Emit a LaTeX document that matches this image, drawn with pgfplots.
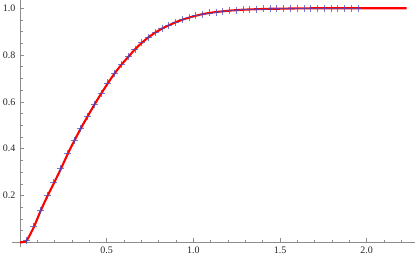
\documentclass[border=0pt]{standalone}
\usepackage{fontspec}
\setmainfont{Liberation Serif}
\usepackage{pgfplots}
\pgfplotsset{compat=1.18}
\definecolor{axgray}{gray}{0.55}
\definecolor{mblue}{rgb}{0.30,0.30,0.75}
\begin{document}
\fontsize{10}{12}\selectfont
\begin{tikzpicture}[x=1pt,y=1pt]
\begin{axis}[
  at={(0,0)}, anchor=south west,
  scale only axis, width=403pt, height=246.9pt,
  xmin=-0.045, xmax=2.28, ymin=-0.02, ymax=1.035,
  axis x line=middle, axis y line=middle,
  axis line style={axgray, line width=0.8pt, -},
  xtick={0.5,1,1.5,2}, ytick={0.2,0.4,0.6,0.8,1.0},
  minor xtick={0.1,0.2,0.3,0.4,0.6,0.7,0.8,0.9,1.1,1.2,1.3,1.4,1.6,1.7,1.8,1.9,2.1,2.2},
  minor ytick={0.05,0.1,0.15,0.25,0.3,0.35,0.45,0.5,0.55,0.65,0.7,0.75,0.85,0.9,0.95},
  tick align=inside,
  major tick length=4pt, minor tick length=2.5pt,
  tick style={axgray, line width=0.6pt},
  every tick label/.append style={font=\fontsize{10}{12}\selectfont, text=black!85},
  xticklabel style={yshift=-1pt},
  yticklabel style={xshift=-1pt},
  /pgf/number format/.cd, fixed, fixed zerofill, precision=1, assume math mode=true,
]
\addplot[red, line width=2.1pt, smooth, tension=0.4] coordinates {
(0,0) (0.02,0.001) (0.039,0.008) (0.078,0.062) (0.117,0.131) (0.156,0.194)
(0.195,0.252) (0.234,0.311) (0.273,0.374) (0.312,0.432) (0.351,0.487)
(0.390,0.538) (0.429,0.588) (0.468,0.635) (0.507,0.680) (0.546,0.722)
(0.585,0.759) (0.624,0.792) (0.663,0.824) (0.702,0.852) (0.741,0.876)
(0.780,0.896) (0.819,0.913) (0.858,0.927) (0.897,0.940) (0.936,0.951)
(0.975,0.960) (1.014,0.968) (1.053,0.975) (1.092,0.980) (1.131,0.984)
(1.170,0.987) (1.209,0.990) (1.248,0.992) (1.287,0.994) (1.326,0.995)
(1.365,0.996) (1.404,0.997) (1.443,0.998) (1.482,0.998) (1.560,0.999)
(1.70,1.0) (2.23,1.0)
};
\addplot[only marks, mark=+, mark size=3.5pt, mblue, opacity=0.75, mark options={line width=0.8pt}] coordinates {
(0.039,0.008) (0.078,0.066) (0.117,0.138) (0.156,0.200) (0.195,0.256)
(0.234,0.314) (0.273,0.378) (0.312,0.434) (0.351,0.488) (0.390,0.537)
(0.429,0.589) (0.468,0.635) (0.507,0.681) (0.546,0.723) (0.585,0.760)
(0.624,0.793) (0.663,0.825) (0.702,0.853) (0.741,0.877) (0.780,0.896)
(0.819,0.913) (0.858,0.928) (0.897,0.940) (0.936,0.951) (0.975,0.960)
(1.014,0.968) (1.053,0.975) (1.092,0.980) (1.131,0.984) (1.170,0.987)
(1.209,0.990) (1.248,0.992) (1.287,0.994) (1.326,0.995) (1.365,0.996)
(1.404,0.997) (1.443,0.998) (1.482,0.998) (1.521,0.999) (1.560,0.999)
(1.599,0.999) (1.638,0.999) (1.677,1.000) (1.716,1.000) (1.755,1.000)
(1.794,1.000) (1.833,1.000) (1.872,1.000) (1.911,1.000) (1.950,1.000)
};
\end{axis}
\pgfresetboundingbox
\useasboundingbox (-12.2pt,-14pt) rectangle (404.8pt,247pt);
\end{tikzpicture}
\end{document}
